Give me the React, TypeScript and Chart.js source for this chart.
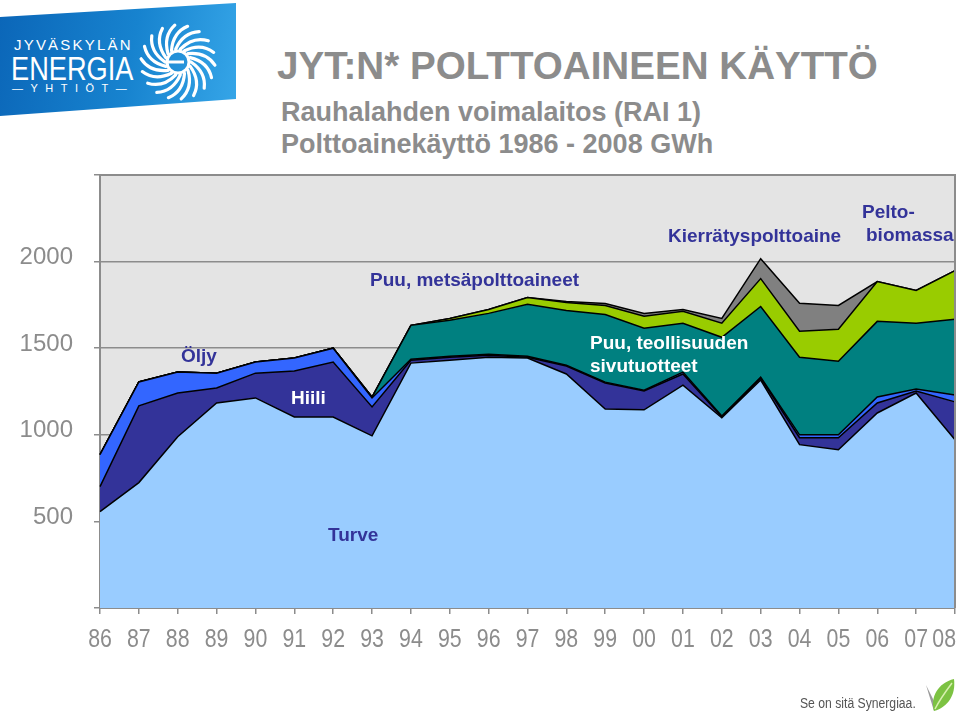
import React, { useEffect, useRef } from 'react';
import { Chart, registerables } from 'chart.js';

Chart.register(...registerables);

// ---- data (GWh) ----
const years = ['86', '87', '88', '89', '90', '91', '92', '93', '94', '95', '96', '97', '98', '99', '00', '01', '02', '03', '04', '05', '06', '07', '08'];
const turve = [557, 724, 989, 1184, 1213, 1103, 1103, 994, 1414, 1431, 1448, 1443, 1351, 1149, 1144, 1287, 1098, 1316, 943, 914, 1126, 1241, 971];
const hiili = [144, 443, 252, 86, 143, 265, 317, 167, 17, 17, 12, 5, 46, 150, 109, 64, 5, 12, 40, 69, 58, 12, 219];
const oljy = [184, 138, 121, 86, 64, 75, 80, 52, 5, 5, 5, 5, 5, 5, 5, 11, 5, 5, 17, 17, 34, 11, 40];
const puuTeollisuus = [0, 0, 0, 0, 0, 0, 0, 5, 196, 208, 236, 300, 316, 391, 357, 282, 455, 408, 448, 425, 437, 380, 437];
const puuMetsa = [0, 0, 0, 0, 0, 0, 0, 0, 0, 11, 23, 40, 46, 52, 69, 69, 81, 161, 150, 184, 230, 189, 281];
const kierratys = [0, 0, 0, 0, 0, 0, 0, 0, 0, 0, 0, 0, 5, 11, 17, 11, 28, 115, 161, 138, 0, 0, 0];
const yTickLabels = [500, 1000, 1500, 2000];

const FONT = '"Liberation Sans", Arial, Helvetica, sans-serif';
const GRAY = '#8c8c8c';
const NAVY = '#333399';

function Label(props: { x: number; y: number; text: string; color: string; size?: number; weight?: string }) {
  const size = props.size ?? 19;
  return (
    <div
      style={{
        position: 'absolute',
        left: props.x,
        top: props.y,
        fontFamily: FONT,
        fontSize: size,
        lineHeight: `${size}px`,
        fontWeight: (props.weight ?? 'bold') as any,
        color: props.color,
        whiteSpace: 'nowrap',
      }}
    >
      {props.text}
    </div>
  );
}

function Swirl() {
  const paths: any[] = [];
  for (let i = 0; i < 18; i++) {
    const a = (i * 20 * Math.PI) / 180;
    const b = a + (45 * Math.PI) / 180;
    const x1 = Math.cos(a) * 13, y1 = Math.sin(a) * 13;
    const cx = Math.cos(a + 0.35) * 30, cy = Math.sin(a + 0.35) * 30;
    const x2 = Math.cos(b) * 37, y2 = Math.sin(b) * 37;
    paths.push(<path key={i} d={`M${x1.toFixed(1)},${y1.toFixed(1)} Q${cx.toFixed(1)},${cy.toFixed(1)} ${x2.toFixed(1)},${y2.toFixed(1)}`} stroke="#fff" strokeWidth={3.2} fill="none" strokeLinecap="round" />);
  }
  return (
    <svg width={84} height={84} viewBox="-42 -42 84 84" style={{ position: 'absolute', left: 136, top: 20 }}>
      {paths}
      <circle r={11} fill="none" stroke="#fff" strokeWidth={3} />
      <line x1={-11} y1={0} x2={6} y2={0} stroke="#fff" strokeWidth={3} />
    </svg>
  );
}

export default function App() {
  const ref = useRef<HTMLCanvasElement>(null);

  useEffect(() => {
    document.body.style.margin = '0';
    const canvas = ref.current!;
    const mk = (label: string, data: number[], color: string, fill: any) => ({
      label,
      data,
      backgroundColor: color,
      borderColor: '#000',
      borderWidth: 1.5,
      fill,
      pointRadius: 0,
      pointHoverRadius: 0,
      tension: 0,
    });
    const bgPlugin = {
      id: 'plotBg',
      beforeDraw(chart: any) {
        const { ctx, chartArea: a } = chart;
        ctx.save();
        ctx.fillStyle = '#e4e4e4';
        ctx.fillRect(a.left, a.top, a.right - a.left, a.bottom - a.top);
        ctx.restore();
      },
      afterDatasetsDraw(chart: any) {
        const { ctx, chartArea: a } = chart;
        ctx.save();
        ctx.strokeStyle = GRAY;
        ctx.lineWidth = 2;
        ctx.beginPath();
        ctx.moveTo(a.left, a.top);
        ctx.lineTo(a.right, a.top);
        ctx.lineTo(a.right, a.bottom);
        ctx.stroke();
        ctx.restore();
      },
      afterDraw(chart: any) {
        // condensed year labels under the category ticks
        const { ctx } = chart;
        const xs = chart.scales.x;
        const sx = 0.82;
        ctx.save();
        ctx.font = `26px ${FONT}`;
        ctx.fillStyle = GRAY;
        ctx.textAlign = 'center';
        ctx.textBaseline = 'middle';
        years.forEach((lab, i) => {
          let x = xs.getPixelForTick(i);
          const w = ctx.measureText(lab).width * sx;
          x = Math.min(x, chart.width - w / 2 - 4);
          ctx.save();
          ctx.translate(x, 640);
          ctx.scale(sx, 1);
          ctx.fillText(lab, 0, 0);
          ctx.restore();
        });
        ctx.restore();
      },
    };
    const chart = new Chart(canvas, {
      type: 'line',
      data: {
        labels: years,
        datasets: [
          mk('Turve', turve, '#99ccff', 'origin'),
          mk('Hiili', hiili, '#333399', '-1'),
          mk('Öljy', oljy, '#3366ff', '-1'),
          mk('Puu, teollisuuden sivutuotteet', puuTeollisuus, '#008080', '-1'),
          mk('Puu, metsäpolttoaineet', puuMetsa, '#99cc00', '-1'),
          mk('Kierrätyspolttoaine', kierratys, '#808080', '-1'),
        ],
      },
      options: {
        animation: false,
        responsive: false,
        events: [],
        plugins: { legend: { display: false }, tooltip: { enabled: false } },
        layout: { padding: { top: 175, right: 5, left: 0, bottom: 0 } },
        scales: {
          x: {
            offset: false,
            grid: { drawOnChartArea: false, color: GRAY, lineWidth: 1.5, tickLength: 6 },
            border: { color: GRAY, width: 2 },
            ticks: { display: false, autoSkip: false, maxRotation: 0 },
            afterFit(s: any) {
              s.height = 107;
              s.paddingLeft = 0;
              s.paddingRight = 0;
            },
          },
          y: {
            stacked: true,
            min: 0,
            max: 2500,
            ticks: {
              stepSize: 500,
              color: GRAY,
              font: { family: FONT, size: 24 },
              padding: 21,
              labelOffset: -4,
              callback: (v: any) => (yTickLabels.includes(Number(v)) ? String(v) : ''),
            },
            grid: { color: GRAY, lineWidth: 1.5, tickLength: 6 },
            border: { color: GRAY, width: 2 },
            afterFit(s: any) {
              s.width = 100;
              s.paddingTop = 0;
              s.paddingBottom = 0;
            },
          },
        },
      } as any,
      plugins: [bgPlugin],
    });
    return () => chart.destroy();
  }, []);

  return (
    <div style={{ position: 'absolute', left: 0, top: 0, width: 960, height: 715, background: '#fff', overflow: 'hidden' }}>
      {/* logo */}
      <div
        style={{
          position: 'absolute',
          left: 0,
          top: 0,
          width: 236,
          height: 120,
          background: 'linear-gradient(100deg, #0b66b8 0%, #1783cf 55%, #36a6e8 100%)',
          clipPath: 'polygon(0 17px, 236px 3px, 236px 99px, 0 116px)',
        }}
      />
      <div style={{ position: 'absolute', left: 14, top: 37, color: '#fff', fontFamily: FONT, fontSize: 15, letterSpacing: 2.2, lineHeight: '16px' }}>JYVÄSKYLÄN</div>
      <div style={{ position: 'absolute', left: 11, top: 51, color: '#fff', fontFamily: FONT, fontSize: 34, lineHeight: '34px', transform: 'scaleX(0.8)', transformOrigin: 'left top' }}>ENERGIA</div>
      <div style={{ position: 'absolute', left: 12, top: 82, color: '#fff', fontFamily: FONT, fontSize: 11, lineHeight: '12px', letterSpacing: 7.5 }}>—YHTIÖT—</div>
      <Swirl />

      {/* titles */}
      <Label x={277} y={47} text="JYT:N* POLTTOAINEEN KÄYTTÖ" color={GRAY} size={38.6} />
      <Label x={281} y={99} text="Rauhalahden voimalaitos (RAI 1)" color={GRAY} size={27} />
      <Label x={281} y={131} text="Polttoainekäyttö 1986 - 2008 GWh" color={GRAY} size={27} />

      <canvas ref={ref} width={960} height={715} style={{ position: 'absolute', left: 0, top: 0, width: 960, height: 715 }} />

      {/* in-chart labels */}
      <Label x={181} y={346} text="Öljy" color={NAVY} />
      <Label x={291} y={388} text="Hiili" color="#fff" />
      <Label x={370} y={270} text="Puu, metsäpolttoaineet" color={NAVY} />
      <Label x={668} y={226} text="Kierrätyspolttoaine" color={NAVY} />
      <Label x={862} y={202} text="Pelto-" color={NAVY} />
      <Label x={866} y={225} text="biomassa" color={NAVY} />
      <Label x={590} y={333} text="Puu, teollisuuden" color="#fff" />
      <Label x={590} y={356} text="sivutuotteet" color="#fff" />
      <Label x={328} y={525} text="Turve" color={NAVY} />

      {/* footer */}
      <div style={{ position: 'absolute', left: 800, top: 695, fontFamily: FONT, fontSize: 14, lineHeight: '16px', color: '#555', whiteSpace: 'nowrap', transform: 'scaleX(0.87)', transformOrigin: 'left top' }}>Se on sitä Synergiaa.</div>
      <svg width={40} height={40} style={{ position: 'absolute', left: 920, top: 675 }}>
        <path d="M14,36 L6,10 L16,30 Z" fill="#9a9a9a" />
        <path d="M14,36 C10,22 18,8 34,4 C36,20 28,32 14,36 Z" fill="#7cc242" />
        <path d="M15,34 C20,24 26,16 32,8" stroke="#d8f0b0" strokeWidth={1.5} fill="none" />
      </svg>
    </div>
  );
}
